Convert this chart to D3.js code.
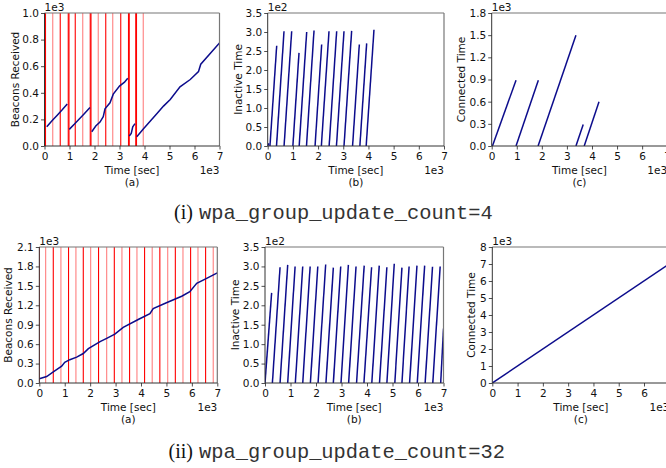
<!doctype html>
<html>
<head>
<meta charset="utf-8">
<script src="https://d3js.org/d3.v7.min.js"></script>
<style>
  body { margin: 0; background: #fff; }
  svg text { font-family: "DejaVu Sans", sans-serif; }
</style>
</head>
<body>
<svg id="fig" width="666" height="468"></svg>
<script>
// ---- data (time in 1e3 sec) ----
var xTicks = [0, 1, 2, 3, 4, 5, 6, 7];

// (i) wpa_group_update_count=4
var beacons4 = [
  [[0.09, 0.145], [0.3, 0.19], [0.5, 0.23], [0.7, 0.27], [0.91, 0.316]],
  [[0.99, 0.125], [1.2, 0.165], [1.4, 0.205], [1.6, 0.245], [1.82, 0.29]],
  [[1.89, 0.107], [2.05, 0.15], [2.22, 0.18], [2.35, 0.22], [2.42, 0.28], [2.62, 0.325], [2.75, 0.39], [3.0, 0.45], [3.2, 0.48], [3.33, 0.51]],
  [[3.39, 0.075], [3.47, 0.095], [3.53, 0.145], [3.62, 0.168]],
  [[3.69, 0.07], [3.96, 0.13], [4.5, 0.245], [4.76, 0.3], [5.03, 0.35], [5.42, 0.445], [5.83, 0.5], [6.16, 0.56], [6.25, 0.615], [7.0, 0.775]]
];
var redSolid4 = [0.0, 0.04, 0.63, 0.95, 0.98, 1.23, 1.83, 1.86, 2.45, 3.05, 3.36, 3.39, 3.65, 3.68];
var redLight4 = [0.33, 1.53, 2.15, 2.73, 3.95];
var inactStart4 = [0.0, 0.09, 0.35, 0.65, 1.0, 1.25, 1.54, 1.88, 2.13, 2.44, 2.73, 3.03, 3.37, 3.66, 3.91];
var inactPeakX4 = [0.05, 0.357, 0.648, 0.952, 1.243, 1.548, 1.839, 2.143, 2.434, 2.738, 3.029, 3.333, 3.638, 3.929, 4.22];
var inactPeakY4 = [0.07, 2.64, 3.02, 3.02, 2.45, 3.0, 3.04, 2.67, 3.02, 3.02, 3.02, 3.03, 2.67, 2.7, 3.06];
var connStart4 = [0.03, 0.97, 1.85, 3.36, 3.69];
var connPeakX4 = [0.97, 1.86, 3.36, 3.65, 4.28];
var connPeakY4 = [0.89, 0.89, 1.5, 0.29, 0.6];

// (ii) wpa_group_update_count=32
var beacons32 = [[
  [0.0, 0.067], [0.29, 0.1], [0.55, 0.17], [0.88, 0.26], [1.0, 0.32], [1.2, 0.36], [1.47, 0.4], [1.73, 0.455],
  [1.93, 0.53], [2.39, 0.64], [2.65, 0.69], [2.97, 0.755], [3.3, 0.86], [3.89, 0.98], [4.35, 1.07], [4.48, 1.15],
  [5.0, 1.24], [5.6, 1.34], [5.92, 1.41], [6.19, 1.54], [6.6, 1.62], [7.0, 1.7]
]];
var redSolid32 = [0.0, 0.55, 1.15, 1.73, 2.33, 2.95, 3.55, 4.14, 4.74, 5.35, 5.95, 6.54];
var redLight32 = [0.25, 0.85, 1.44, 2.02, 2.65, 3.25, 3.84, 4.44, 5.05, 5.65, 6.24, 6.84];
var inactStart32 = [0.0, 0.29, 0.59, 0.89, 1.19, 1.48, 1.78, 2.08, 2.39, 2.68, 2.98, 3.28, 3.59, 3.88, 4.19, 4.49, 4.78, 5.09, 5.37, 5.67, 5.97, 6.28, 6.58, 6.89];
var inactPeakX32 = [0.26, 0.59, 0.89, 1.18, 1.48, 1.77, 2.07, 2.38, 2.68, 2.97, 3.27, 3.57, 3.89, 4.18, 4.48, 4.78, 5.07, 5.37, 5.65, 5.96, 6.26, 6.57, 6.87, 7.0];
var inactPeakY32 = [2.32, 2.98, 3.04, 3.0, 3.0, 3.0, 3.0, 3.05, 2.97, 3.0, 3.04, 3.0, 3.02, 2.98, 3.02, 2.98, 3.07, 2.97, 3.0, 3.02, 3.02, 2.99, 3.0, 1.4];
var conn32 = [[0, 0], [7, 7]];

var captions = [
  { tag: "(i)", code: "wpa_group_update_count=4", y: 219 },
  { tag: "(ii)", code: "wpa_group_update_count=32", y: 458 }
];

var svg = d3.select("#fig");
var blue = "#0c0c8c";
var fs = "10.5px";

function segs(start, px, py) {
  return start.map(function(s, i) { return [[s, 0], [px[i], py[i]]]; });
}

function panel(p) {
  var g = svg.append("g").attr("transform", "translate(" + p.x + "," + p.y + ")");
  var x = d3.scaleLinear().domain([0, 7]).range([0, p.w]);
  var y = d3.scaleLinear().domain(p.yDomain).range([p.h, 0]);

  var clipId = "clip" + p.id;
  g.append("clipPath").attr("id", clipId).append("rect").attr("width", p.w).attr("height", p.h);
  var plot = g.append("g").attr("clip-path", "url(#" + clipId + ")");

  (p.redLight || []).forEach(function(v) {
    plot.append("line").attr("x1", x(v)).attr("x2", x(v)).attr("y1", 0).attr("y2", p.h)
      .attr("stroke", "red").attr("stroke-opacity", 0.5).attr("stroke-width", 1.1);
  });
  (p.redSolid || []).forEach(function(v) {
    plot.append("line").attr("x1", x(v)).attr("x2", x(v)).attr("y1", 0).attr("y2", p.h)
      .attr("stroke", "red").attr("stroke-width", 1.1);
  });

  var line = d3.line().x(function(d) { return x(d[0]); }).y(function(d) { return y(d[1]); });
  p.lines.forEach(function(l) {
    plot.append("path").attr("d", line(l)).attr("fill", "none")
      .attr("stroke", blue).attr("stroke-width", 1.5);
  });

  // frame
  g.append("line").attr("x1", 0).attr("x2", p.w).attr("y1", 0).attr("y2", 0).attr("stroke", "#777").attr("stroke-width", 1.2);
  g.append("line").attr("x1", p.w).attr("x2", p.w).attr("y1", 0).attr("y2", p.h).attr("stroke", "#777").attr("stroke-width", 1.2);
  g.append("line").attr("x1", 0).attr("x2", 0).attr("y1", 0).attr("y2", p.h).attr("stroke", "#333").attr("stroke-width", 1);
  g.append("line").attr("x1", 0).attr("x2", p.w).attr("y1", p.h).attr("y2", p.h).attr("stroke", "#333").attr("stroke-width", 1);

  var xa = g.append("g").attr("transform", "translate(0," + p.h + ")")
    .call(d3.axisBottom(x).tickValues(xTicks).tickSize(3.5).tickPadding(3.3).tickFormat(d3.format("d")));
  var ya = g.append("g")
    .call(d3.axisLeft(y).tickValues(p.yTicks).tickSize(3.5).tickPadding(2).tickFormat(p.fmt));
  [xa, ya].forEach(function(a) {
    a.select(".domain").remove();
    a.selectAll("line").attr("stroke", "#222").attr("stroke-width", 0.8);
    a.selectAll("text").attr("font-family", "DejaVu Sans").attr("font-size", fs).attr("fill", "#111");
  });

  g.append("text").attr("x", 0).attr("y", -2.5).attr("font-size", fs).attr("fill", "#111").text(p.yExp);
  g.append("text").attr("x", p.w).attr("y", p.h + 27.8).attr("text-anchor", "end")
    .attr("font-size", fs).attr("fill", "#111").text("1e3");
  g.append("text").attr("x", p.w / 2).attr("y", p.h + 27.8).attr("text-anchor", "middle")
    .attr("font-size", fs).attr("fill", "#111").text("Time [sec]");
  g.append("text").attr("x", p.w / 2).attr("y", p.h + 39.8).attr("text-anchor", "middle")
    .attr("font-size", fs).attr("fill", "#111").text(p.sub);
  g.append("text").attr("transform", "translate(" + (-p.yl) + "," + (p.h / 2) + ") rotate(-90)")
    .attr("text-anchor", "middle").attr("dominant-baseline", "central")
    .attr("font-size", fs).attr("fill", "#111").text(p.ylabel);
}

var f1 = d3.format(".1f");
var tickA4 = [0, 0.2, 0.4, 0.6, 0.8, 1.0];
var tickB = [0, 0.5, 1.0, 1.5, 2.0, 2.5, 3.0, 3.5];
var tickC4 = [0, 0.3, 0.6, 0.9, 1.2, 1.5, 1.8];
var tickA32 = [0, 0.3, 0.6, 0.9, 1.2, 1.5, 1.8, 2.1];
var tickC32 = [0, 1, 2, 3, 4, 5, 6, 7, 8];

panel({ id: 1, x: 44.5, y: 13, w: 175, h: 133, yDomain: [0, 1.0], yTicks: tickA4, fmt: f1, yExp: "1e3",
  ylabel: "Beacons Received", yl: 29.5, sub: "(a)", lines: beacons4, redSolid: redSolid4, redLight: redLight4 });
panel({ id: 2, x: 267.7, y: 13, w: 176.3, h: 133, yDomain: [0, 3.5], yTicks: tickB, fmt: f1, yExp: "1e2",
  ylabel: "Inactive Time", yl: 29.7, sub: "(b)", lines: segs(inactStart4, inactPeakX4, inactPeakY4) });
panel({ id: 3, x: 491.7, y: 13, w: 175.5, h: 133, yDomain: [0, 1.8], yTicks: tickC4, fmt: f1, yExp: "1e3",
  ylabel: "Connected Time", yl: 31, sub: "(c)", lines: segs(connStart4, connPeakX4, connPeakY4) });

panel({ id: 4, x: 39.3, y: 247, w: 178, h: 136, yDomain: [0, 2.1], yTicks: tickA32, fmt: f1, yExp: "1e3",
  ylabel: "Beacons Received", yl: 31, sub: "(a)", lines: beacons32, redSolid: redSolid32, redLight: redLight32 });
panel({ id: 5, x: 265, y: 247, w: 178.5, h: 136, yDomain: [0, 3.5], yTicks: tickB, fmt: f1, yExp: "1e2",
  ylabel: "Inactive Time", yl: 30, sub: "(b)", lines: segs(inactStart32, inactPeakX32, inactPeakY32) });
panel({ id: 6, x: 492.3, y: 247, w: 177, h: 136, yDomain: [0, 8], yTicks: tickC32, fmt: d3.format("d"), yExp: "1e3",
  ylabel: "Connected Time", yl: 21.6, sub: "(c)", lines: [conn32] });

captions.forEach(function(c) {
  svg.append("text").attr("x", 193).attr("y", c.y).attr("text-anchor", "end")
    .style("font-family", "'Liberation Serif', 'DejaVu Serif', serif").attr("font-size", "20px")
    .attr("fill", "#111").text(c.tag);
  svg.append("text").attr("x", 199).attr("y", c.y)
    .style("font-family", "'Liberation Mono', 'DejaVu Sans Mono', monospace").attr("font-size", "20.4px")
    .attr("fill", "#333").text(c.code);
});
</script>
</body>
</html>
